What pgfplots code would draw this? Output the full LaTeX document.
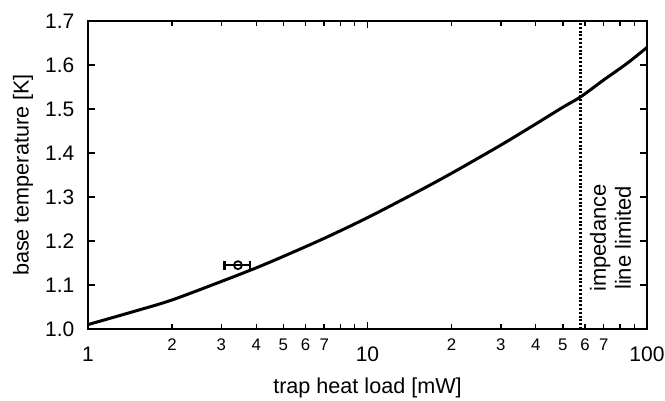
\documentclass[border=0pt]{standalone}
\usepackage{fontspec}
\setmainfont{Liberation Sans}
\usepackage{pgfplots}
\pgfplotsset{compat=1.18}

\begin{document}
\begin{tikzpicture}
\begin{axis}[
    scale only axis,
    width=279.5pt,
    height=154pt,
    xmode=log,
    xmin=1, xmax=100,
    ymin=1.0, ymax=1.7,
    axis line style={line width=0.8pt},
    tick align=inside,
    major tick length=3.5pt,
    minor tick length=2.5pt,
    every tick/.style={black, line width=0.7pt},
    xtick={1,10,100},
    xticklabels={1,10,100},
    extra x ticks={2,3,4,5,6,7,20,30,40,50,60,70},
    extra x tick labels={2,3,4,5,6,7,2,3,4,5,6,7},
    extra x tick style={major tick length=2.5pt,
        xticklabel style={yshift=4.5pt, font=\fontsize{8.4}{9.5}\selectfont}},
    ytick={1.0,1.1,1.2,1.3,1.4,1.5,1.6,1.7},
    /pgf/number format/assume math mode=true,
    yticklabel style={/pgf/number format/fixed, /pgf/number format/fixed zerofill,
        /pgf/number format/precision=1, xshift=-3.3pt},
    xticklabel style={anchor=center, yshift=-12.5pt, inner sep=0pt},
    tick label style={font=\fontsize{10.5}{12}\selectfont},
    label style={font=\fontsize{10.8}{13}\selectfont},
    xlabel={trap heat load [mW]},
    ylabel={base temperature [K]},
    xlabel style={at={(axis description cs:0.5,-0.192)}, anchor=center, inner sep=0pt},
    ylabel style={at={(axis description cs:-0.1163,0.5)}, anchor=center, inner sep=0pt},
    clip=false,
]

% model curve
\addplot[black, line width=1.5pt, smooth] coordinates {
    (1,1.010) (1.5,1.042) (2,1.066) (3,1.108) (4,1.139) (5,1.165)
    (7,1.206) (10,1.253) (15,1.311) (20,1.354) (30,1.418) (40,1.466)
    (50,1.504) (58,1.528) (70,1.566) (85,1.604) (100,1.640)
};

% impedance limit
\addplot[black, line width=1.6pt, dash pattern=on 1pt off 0.9pt] coordinates {
    (58,1.0) (58,1.7)
};

% measured point
\addplot[black, only marks, mark=o, mark size=2pt, mark options={line width=0.9pt},
    error bars/.cd, x dir=both, x explicit,
    error bar style={line width=1.3pt},
    error mark=|,
    error mark options={line width=1.3pt, mark size=2.2pt}]
    coordinates {(3.44,1.145) +- (0.355,0)};

\node[rotate=90, align=center, font=\fontsize{11}{12.5}\selectfont]
    at (axis cs:74,1.207) {impedance\\line limited};

\end{axis}
\pgfresetboundingbox
\path[use as bounding box]
    ([xshift=-44pt, yshift=-36pt]current axis.south west)
    rectangle ([xshift=9pt, yshift=10.5pt]current axis.north east);
\end{tikzpicture}
\end{document}
